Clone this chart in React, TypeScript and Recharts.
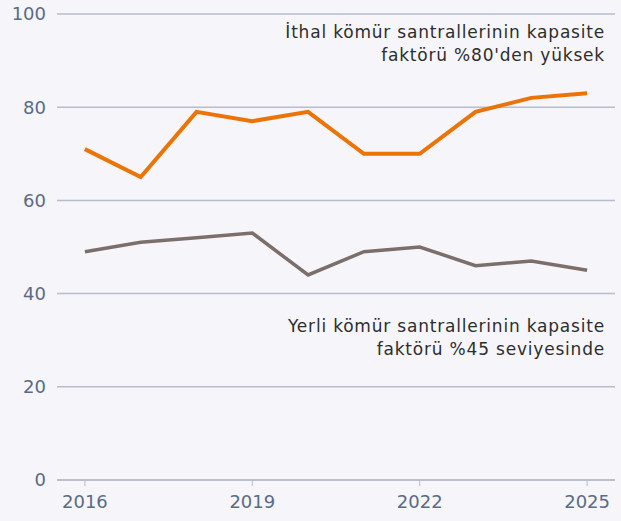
import React from "react";
import { LineChart, Line, XAxis, YAxis, CartesianGrid, Customized } from "recharts";

const years = [2016, 2017, 2018, 2019, 2020, 2021, 2022, 2023, 2024, 2025];
const ithal = [71, 65, 79, 77, 79, 70, 70, 79, 82, 83];
const yerli = [49, 51, 52, 53, 44, 49, 50, 46, 47, 45];
const xTicks = [2016, 2019, 2022, 2025];
const yTicks = [0, 20, 40, 60, 80, 100];
const noteIthal = ["İthal kömür santrallerinin kapasite", "faktörü %80'den yüksek"];
const noteYerli = ["Yerli kömür santrallerinin kapasite", "faktörü %45 seviyesinde"];

const data = years.map((y, i) => ({ year: y, ithal: ithal[i], yerli: yerli[i] }));

const FONT = "'DejaVu Sans', sans-serif";
const W = 621;
const MR = 6;

const Notes = () => {
  const right = W - MR - 10;
  const mk = (lines: string[], y0: number) =>
    lines.map((t, i) => (
      <text key={t} x={right} y={y0 + i * 23} textAnchor="end" fontSize={17} letterSpacing={0.8} fill="#2e2e2e" fontFamily={FONT}>
        {t}
      </text>
    ));
  return (
    <g>
      {mk(noteIthal, 38)}
      {mk(noteYerli, 332)}
    </g>
  );
};

export default function App() {
  return (
    <div style={{ position: "absolute", left: 0, top: 0, width: 621, height: 521, background: "#f5f5fa" }}>
      <LineChart width={W} height={521} data={data} margin={{ top: 14, right: MR, left: 0, bottom: 0 }}>
        <CartesianGrid horizontal vertical={false} stroke="#b7bdcc" strokeWidth={1.5} />
        <XAxis
          dataKey="year"
          type="number"
          domain={[2015.5, 2025.5]}
          ticks={xTicks}
          height={41}
          axisLine={{ stroke: "#b7bdcc", strokeWidth: 1.5 }}
          tickLine={{ stroke: "#b7bdcc" }}
          tickSize={6}
          tickMargin={9}
          tick={{ fill: "#5b6b85", fontSize: 18, fontFamily: FONT }}
        />
        <YAxis
          domain={[0, 100]}
          ticks={yTicks}
          width={57}
          axisLine={false}
          tickLine={false}
          tickSize={0}
          tickMargin={11}
          tick={{ fill: "#5b6b85", fontSize: 18, fontFamily: FONT }}
        />
        <Line dataKey="ithal" stroke="#ec7306" strokeWidth={4} dot={false} isAnimationActive={false} />
        <Line dataKey="yerli" stroke="#7c6f6b" strokeWidth={3.5} dot={false} isAnimationActive={false} />
        <Customized component={Notes} />
      </LineChart>
    </div>
  );
}
